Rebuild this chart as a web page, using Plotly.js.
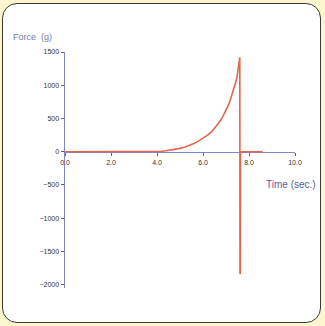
<!DOCTYPE html>
<html>
<head>
<meta charset="utf-8">
<script src="https://cdn.plot.ly/plotly-3.0.1.min.js"></script>
<style>
  html, body { margin: 0; padding: 0; width: 325px; height: 326px; background: #fcf6cf; overflow: hidden; }
  #frame { position: absolute; left: 2px; top: 3px; width: 317px; height: 318px;
           border: 1.5px solid #3a3a3a; border-radius: 15px; background: #ffffff; }
  #chart { position: absolute; left: 0; top: 0; width: 325px; height: 326px; }
</style>
</head>
<body>
<div id="frame"></div>
<div id="chart"></div>
<script>
// Force on the sample over time: flat, exponential build-up, then sudden snap.
const timeSec = [0.0, 1.0, 2.0, 3.0, 3.8, 4.0, 4.2, 4.4, 4.6, 4.8, 5.0, 5.2, 5.4, 5.6, 5.8, 6.0, 6.2, 6.4, 6.55, 6.7, 6.85, 6.97, 7.08, 7.18, 7.27, 7.35, 7.42, 7.48, 7.53, 7.57, 7.6, 7.61, 7.62, 7.63, 8.0, 8.6];
const forceG  = [0,   0,   0,   0,   0,   3,   8,   15,  24,  36,  50,  68,  92,  122, 160, 200, 250, 310, 370,  440, 520,  600,  685,  770,  860,  950,  1040, 1130, 1230, 1330, 1420, -1830, -1830, 0, 0, 0];

const xTicks = [0, 2, 4, 6, 8, 10];
const yTicks = [1500, 1000, 500, 0, -500, -1000, -1500, -2000];

const yMin = -2050, yMax = 1500;
const axisColor = '#8484cc';

Plotly.newPlot('chart', [{
  x: timeSec,
  y: forceG,
  type: 'scatter',
  mode: 'lines',
  line: { color: '#e0664c', width: 1.6 },
  hoverinfo: 'skip'
}], {
  width: 325, height: 326,
  margin: { l: 65, r: 30, t: 52, b: 38 },
  paper_bgcolor: 'rgba(0,0,0,0)',
  plot_bgcolor: 'rgba(0,0,0,0)',
  showlegend: false,
  font: { family: 'Liberation Sans, Arial, sans-serif', size: 7, color: '#333333' },
  xaxis: {
    range: [0, 10],
    tickvals: xTicks,
    tickformat: '.1f',
    showgrid: false, zeroline: false,
    showline: true, linecolor: axisColor, linewidth: 1.5,
    ticks: 'outside', ticklen: 3, tickcolor: '#666666',
    anchor: 'free',
    position: (0 - yMin) / (yMax - yMin),
    tickfont: { size: 7, color: '#333333' },
    layer: 'below traces'
  },
  yaxis: {
    range: [yMin, yMax],
    tickvals: yTicks,
    showgrid: false, zeroline: false,
    showline: true, linecolor: axisColor, linewidth: 1.5,
    ticks: 'outside', ticklen: 3, tickcolor: '#666666',
    tickfont: { size: 7, color: '#333333' },
    layer: 'below traces'
  },
  annotations: [
    { text: 'Force  (g)', xref: 'paper', yref: 'paper', x: -0.235, y: 1.065,
      xanchor: 'left', yanchor: 'middle', showarrow: false,
      font: { size: 9, color: '#7878a8' } },
    { text: 'Time (sec.)', xref: 'paper', yref: 'paper', x: 1.1, y: 0.44,
      xanchor: 'right', yanchor: 'middle', showarrow: false,
      font: { size: 10, color: '#5c5c9c' } }
  ]
}, { displayModeBar: false, staticPlot: true });
</script>
</body>
</html>
